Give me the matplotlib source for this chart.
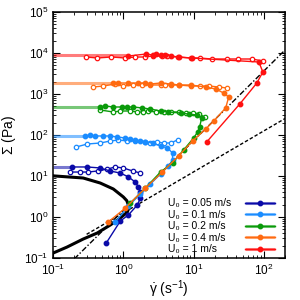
import numpy as np
import matplotlib
matplotlib.use('Agg')
import matplotlib.pyplot as plt
from matplotlib.lines import Line2D

plt.rcParams['font.family'] = ['Liberation Sans', 'DejaVu Sans']
plt.rcParams['mathtext.default'] = 'regular'

# velocities and colours
labels = ['U₀ = 0.05 m/s', 'U₀ = 0.1 m/s', 'U₀ = 0.2 m/s',
          'U₀ = 0.4 m/s', 'U₀ = 1 m/s']
colors = ['#0a0aa8', '#1a8cff', '#0a9a0a', '#ff6a10', '#ff1010']
plateau = [16.6, 95, 480, 1900, 8900]
plateau_end = [0.19, 0.29, 0.47, 0.72, 1.2]

# filled symbols (acceleration)
fill_x = [
    [0.571, 0.906, 1.18, 1.58, 1.75, 1.75, 1.64, 1.48, 1.18, 0.906, 0.652, 0.469, 0.306, 0.187],
    [0.77, 1.18, 1.75, 2.43, 3.38, 4.39, 5.01, 5.01, 4.25, 3.38, 2.6, 2.06, 1.75, 1.48, 1.26,
     1.07, 0.82, 0.652, 0.518, 0.398, 0.338, 0.287],
    [1.26, 2.06, 3.38, 5.01, 7.2, 10, 11.4, 12.2, 13.0, 11.0, 8.48, 6.52, 4.39, 3.38, 2.43,
     1.87, 1.39, 1.14, 0.968, 0.72, 0.553, 0.469],
    [0.61, 1.07, 2.06, 3.6, 6.1, 9.68, 14.8, 19.3, 28.6, 31.6, 26.8, 20.6, 14.8, 9.06, 6.1,
     4.7, 3.38, 2.43, 2.06, 1.64, 1.18, 0.849, 0.72],
    [15.3, 45.4, 79.4, 96.8, 84.9, 9.36, 6.1, 4.7, 3.98, 3.38, 2.96, 2.6, 2.13, 1.18],
]
fill_y = [
    [0.232, 0.80, 1.12, 1.96, 2.9, 4.07, 5.4, 7.1, 9.5, 11.8, 13.2, 15.7, 16.6, 16.6],
    [0.755, 1.85, 3.64, 6.38, 11.2, 17.5, 24.5, 36.4, 48.2, 54, 63.8, 67.5, 71.4, 75.5, 79.9,
     84.5, 89.4, 94.6, 94.6, 94.6, 100, 94.6],
    [2.19, 5.1, 12.5, 20.8, 43, 84.5, 118, 157, 260, 308, 325, 344, 364, 385, 430,
     456, 482, 482, 482, 482, 510, 482],
    [0.755, 1.66, 5.1, 12.5, 30.8, 71.4, 140, 219, 456, 845, 1057, 1324, 1483, 1660, 1660,
     1755, 1855, 1755, 1855, 1855, 1855, 1855, 1855],
    [67, 570, 1850, 3440, 6030, 7550, 7990, 8450, 8930, 8930, 9450, 8930, 9450, 8450],
]

# open symbols (deceleration)
open_x = [
    [0.175, 0.243, 0.316, 0.44, 0.59, 0.77, 1.0, 1.35, 1.75],
    [0.213, 0.306, 0.469, 0.652, 0.849, 1.14, 1.48, 2.06, 2.43, 3.06, 3.73, 4.69, 5.9],
    [0.469, 0.72, 0.906, 1.26, 1.58, 1.93, 2.28, 2.87, 3.73, 4.69, 6.1, 7.7, 9.68, 11.8, 14.4],
    [0.373, 0.518, 0.77, 1.0, 1.39, 1.87, 2.43, 3.38, 3.98, 4.7, 6.1, 9.06, 12.2, 16.4, 22.8, 29.6],
    [0.296, 0.425, 0.674, 1.07, 1.48, 2.06, 2.6, 3.6, 4.25, 5.9, 9.06, 12.2, 18.1, 29.6, 42.5,
     67.4, 96.8],
]
open_y = [
    [12.5, 12.5, 12.5, 13.3, 14.8, 16.6, 15.7, 13.3, 11.8],
    [50.9, 60.3, 63.8, 71.4, 75.5, 71.4, 71.4, 67.5, 63.8, 67.5, 63.8, 63.8, 75.5],
    [407, 364, 385, 385, 364, 364, 385, 364, 364, 364, 364, 344, 344, 325, 275],
    [1483, 1567, 1755, 1567, 1660, 1660, 1660, 1660, 1660, 1660, 1660, 1567, 1567, 1567, 1483, 1400],
    [7990, 7550, 7990, 7550, 7990, 7990, 8450, 8450, 8450, 7990, 7550, 7550, 7140, 7140, 7140,
     7140, 6380],
]

# model curve and reference lines
curve_x = [0.1, 0.107, 0.268, 0.469, 0.72, 1.0, 1.12, 1.18, 1.19, 1.14, 0.906, 0.652, 0.425,
           0.268, 0.158, 0.1]
curve_y = [10.1, 10.0, 8.94, 6.74, 4.82, 3.08, 2.5, 1.96, 1.62, 1.32, 0.946, 0.638, 0.407,
           0.29, 0.185, 0.132]
dashdot_x = [0.2, 200]
dashdot_y = [0.095, 11800]
dashed_x = [0.3, 200]
dashed_y = [0.378, 252]

xticks = [0.1, 1, 10, 100]
yticks = [0.1, 1, 10, 100, 1e3, 1e4, 1e5]

fig = plt.figure(figsize=(3, 3), dpi=100)
ax = fig.add_axes([0.177, 0.14, 0.773, 0.82])

ax.plot(curve_x, curve_y, color='black', lw=2.2)
ax.plot(dashdot_x, dashdot_y, color='black', lw=1, ls=(0, (4, 1.5, 1, 1.5)))
ax.plot(dashed_x, dashed_y, color='black', lw=1, ls=(0, (2.5, 1.5)))

handles = []
for i in range(5):
    light, = ax.plot([0.1, plateau_end[i]], [plateau[i], plateau[i]], color=colors[i],
                     lw=2.2, alpha=0.55, solid_capstyle='butt')
    ax.plot(open_x[i], open_y[i], color=colors[i], lw=1, marker='o', ms=3.2,
            mfc='white', mec=colors[i], mew=0.9)
    line, = ax.plot(fill_x[i], fill_y[i], color=colors[i], lw=1, marker='o', ms=3.2,
                    mec=colors[i])
    handles.append((light, line))

ax.set_xscale('log')
ax.set_yscale('log')
ax.set_xticks(xticks)
ax.set_yticks(yticks)
ax.set_xlim(0.1, 200)
ax.set_ylim(0.1, 1e5)
ax.tick_params(which='both', direction='in', top=True, right=True, labelsize=8.5)
ax.tick_params(which='major', length=5)
ax.tick_params(which='minor', length=2.5)
for s in ax.spines.values():
    s.set_linewidth(1.1)

ax.set_xlabel(r'$\dot{\gamma}$ (s$^{-1}$)', fontsize=10, labelpad=0)
ax.set_ylabel(r'$\Sigma$ (Pa)', fontsize=10, labelpad=4)

# legend: markers on the right, text left aligned (two legends share the rows)
leg_kw = dict(frameon=False, fontsize=7.5, labelspacing=0.14, borderpad=0,
              borderaxespad=0)
leg_marks = ax.legend(handles, [''] * len(labels), loc='lower right',
                      bbox_to_anchor=(0.955, 0.015), markerfirst=False,
                      handlelength=2.8, handletextpad=0.0, **leg_kw)
ax.add_artist(leg_marks)
blank = [Line2D([], [], ls='none') for _ in labels]
ax.legend(blank, labels, loc='lower left', bbox_to_anchor=(0.496, 0.015),
          handlelength=0, handletextpad=0, **leg_kw)

fig.savefig('out.png', dpi=100)
